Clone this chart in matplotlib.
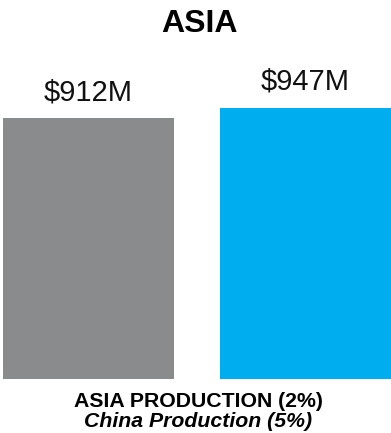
import matplotlib
matplotlib.use("Agg")
import matplotlib.pyplot as plt

# regional revenue, two periods
categories = ["Prior", "Current"]
values = [912, 947]
labels = ["$912M", "$947M"]
colors = ["#898b8d", "#00aeef"]

title = "ASIA"
footer_main = "ASIA PRODUCTION (2%)"
footer_sub = "China Production (5%)"

plt.rcParams['font.family'] = ['Liberation Sans', 'DejaVu Sans']

W, H = 391, 433
fig = plt.figure(figsize=(W / 100, H / 100), dpi=100)

# axes box: bars run from the baseline up, no spines or ticks
ax = fig.add_axes([3 / W, (H - 379) / H, 388 / W, 379 / H])
width = 0.786
x = range(len(categories))
bars = ax.bar(x, values, width=width, color=colors)
ax.set_xlim(-width / 2, 1 + width / 2)
ax.set_ylim(0, 947 * 379 / 271)
ax.axis("off")

for b, lab in zip(bars, labels):
    ax.annotate(lab, (b.get_x() + b.get_width() / 2, b.get_height()),
                xytext=(0, 18), textcoords="offset pixels",
                ha="center", va="baseline", fontsize=21, color="#111111")

fig.text(199 / W, 1 - 32 / H, title, ha="center", va="baseline",
         fontsize=23, fontweight="bold")
fig.text(198 / W, 1 - 407 / H, footer_main, ha="center", va="baseline",
         fontsize=15.3, fontweight="bold")
fig.text(198 / W, 1 - 427 / H, footer_sub, ha="center", va="baseline",
         fontsize=15.3, fontweight="bold", style="italic")

fig.savefig("out.png", dpi=100)
